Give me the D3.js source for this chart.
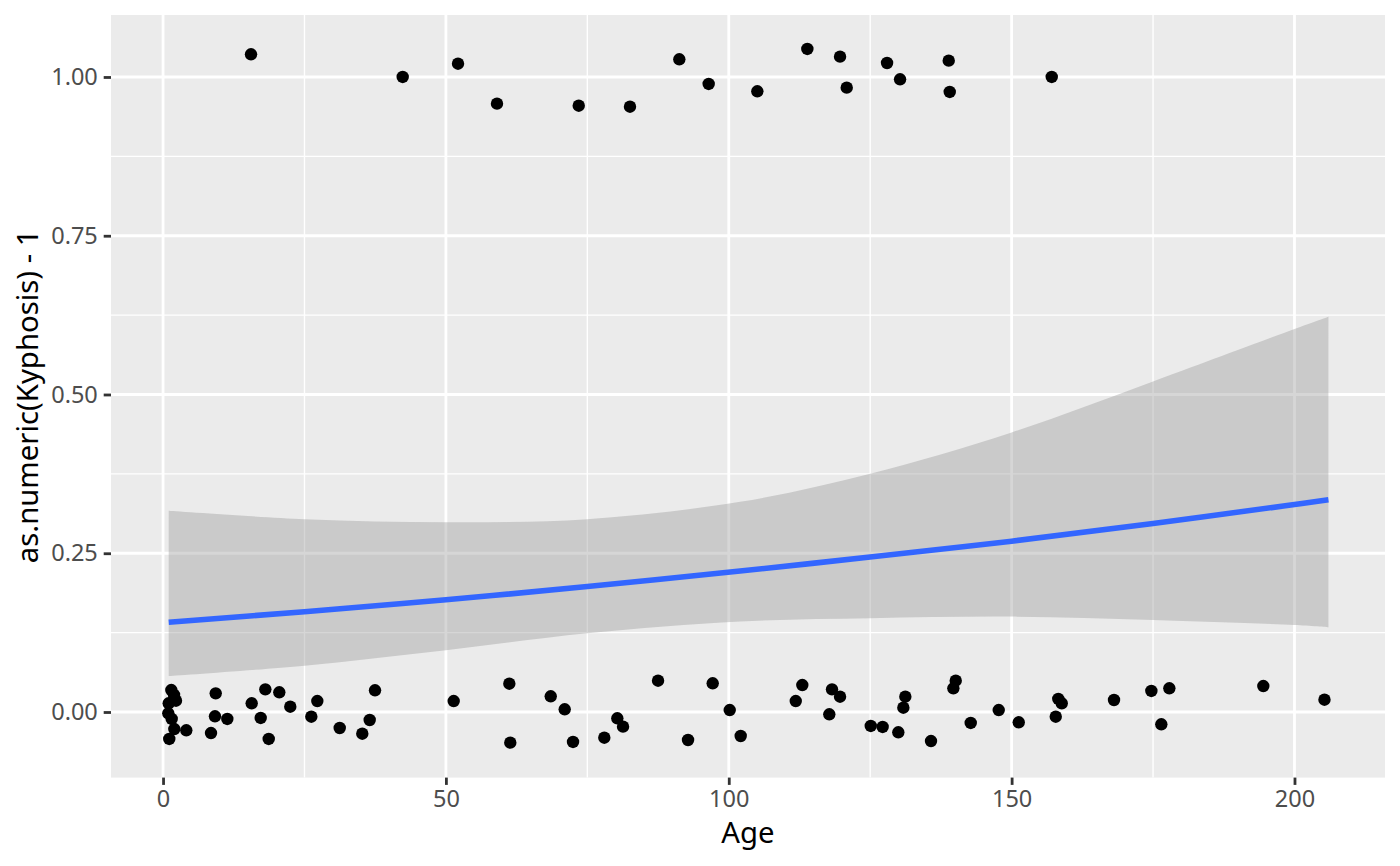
<!DOCTYPE html>
<html>
<head>
<meta charset="utf-8">
<script src="https://cdn.jsdelivr.net/npm/d3@7"></script>
<style>
  body { margin: 0; background: #fff; }
  svg { display: block; font-family: "Noto Sans", "Open Sans", sans-serif; }
</style>
</head>
<body>
<svg width="1400" height="866"></svg>
<script>
// jittered points: Age vs as.numeric(Kyphosis) - 1
const pointAge = [
  1.46, 1.94, 2.29, 1.0, 0.93, 1.53, 1.99, 1.10, 4.11, 9.31, 9.18, 11.36, 8.48,
  15.67, 18.08, 20.55, 17.26, 22.49, 18.68, 27.27, 26.21, 31.23, 35.22, 36.53,
  37.47, 51.38, 61.21, 61.38, 68.53, 71.0, 72.47, 78.0, 80.3, 81.31, 87.5, 92.8,
  97.16, 100.17, 102.11, 111.84, 113.0, 117.77, 118.25, 119.67, 125.1, 127.2,
  129.97, 130.86, 131.21, 135.75, 139.7, 140.12, 142.77, 147.72, 151.26, 157.8,
  158.25, 158.86, 168.1, 174.7, 177.88, 176.46, 194.49, 205.3,
  15.55, 42.36, 52.14, 59.03, 73.48, 82.54, 91.26, 96.45, 105.05, 113.89,
  119.67, 120.85, 127.98, 130.28, 138.88, 139.06, 157.09
];
const pointValue = [
  0.0346, 0.0268, 0.0178, 0.0137, -0.0020, -0.0110, -0.0268, -0.0425, -0.0288,
  0.0294, -0.0068, -0.0110, -0.0331, 0.0137, 0.0357, 0.0310, -0.0094, 0.0083,
  -0.0425, 0.0173, -0.0074, -0.0252, -0.0342, -0.0126, 0.0342, 0.0173, 0.0446,
  -0.0483, 0.0247, 0.0043, -0.0472, -0.0405, -0.0099, -0.0231, 0.0493, -0.0441,
  0.0452, 0.0031, -0.0378, 0.0173, 0.0425, -0.0036, 0.0357, 0.0241, -0.0220,
  -0.0236, -0.0320, 0.0068, 0.0241, -0.0457, 0.0373, 0.0493, -0.0173, 0.0031,
  -0.0162, -0.0074, 0.0205, 0.0137, 0.0189, 0.0331, 0.0373, -0.0194, 0.0409,
  0.0194,
  1.0357, 1.0, 1.0209, 0.958, 0.9548, 0.9532, 1.0279, 0.989, 0.9775, 1.0441,
  1.032, 0.9832, 1.022, 0.9964, 1.0257, 0.9764, 1.0
];

// smooth (glm binomial)
const fitAge   = [1, 25, 50, 75, 102, 125, 150, 175, 200, 206];
const fitValue = [0.1414, 0.1580, 0.1768, 0.1975, 0.2220, 0.2440, 0.2690, 0.2968, 0.3268, 0.3341];
const fitLower = [0.0567, 0.0730, 0.0972, 0.1240, 0.1426, 0.1477, 0.1502, 0.1450, 0.1370, 0.1335];
const fitUpper = [0.3168, 0.3037, 0.2990, 0.3037, 0.3310, 0.3751, 0.4402, 0.5204, 0.6031, 0.6225];

const xTicks = [0, 50, 100, 150, 200];
const xMinor = [25, 75, 125, 175];
const yTicks = [0, 0.25, 0.5, 0.75, 1];
const yMinor = [0.125, 0.375, 0.625, 0.875];

const svg = d3.select('svg');
const panel = {"left": 111, "right": 1385, "top": 15, "bottom": 777.6};

const xScale = d3.scaleLinear().domain([-9.2, 216.0]).range([panel.left, panel.right]);
const yScale = d3.scaleLinear().domain([-0.1033, 1.0976]).range([panel.bottom, panel.top]);

// panel background
svg.append('rect')
  .attr('x', panel.left).attr('y', panel.top)
  .attr('width', panel.right - panel.left)
  .attr('height', panel.bottom - panel.top)
  .attr('fill', '#EBEBEB');

// grid lines
const grid = svg.append('g');
grid.selectAll('.xminor').data(xMinor).enter().append('line')
  .attr('x1', d => xScale(d)).attr('x2', d => xScale(d))
  .attr('y1', panel.top).attr('y2', panel.bottom)
  .attr('stroke', '#fff').attr('stroke-width', 1.4);
grid.selectAll('.yminor').data(yMinor).enter().append('line')
  .attr('y1', d => yScale(d)).attr('y2', d => yScale(d))
  .attr('x1', panel.left).attr('x2', panel.right)
  .attr('stroke', '#fff').attr('stroke-width', 1.4);
grid.selectAll('.xmajor').data(xTicks).enter().append('line')
  .attr('x1', d => xScale(d)).attr('x2', d => xScale(d))
  .attr('y1', panel.top).attr('y2', panel.bottom)
  .attr('stroke', '#fff').attr('stroke-width', 2.8);
grid.selectAll('.ymajor').data(yTicks).enter().append('line')
  .attr('y1', d => yScale(d)).attr('y2', d => yScale(d))
  .attr('x1', panel.left).attr('x2', panel.right)
  .attr('stroke', '#fff').attr('stroke-width', 2.8);

// points
svg.append('g')
  .selectAll('circle')
  .data(pointAge.map((a, i) => [a, pointValue[i]]))
  .enter()
  .append('circle')
  .attr('cx', d => xScale(d[0]))
  .attr('cy', d => yScale(d[1]))
  .attr('r', 6.2)
  .attr('fill', '#000');

// ribbon + fitted line
const fit = fitAge.map((a, i) => ({age: a, y: fitValue[i], lo: fitLower[i], hi: fitUpper[i]}));

svg.append('path')
  .datum(fit)
  .attr('d', d3.area()
    .x(d => xScale(d.age))
    .y0(d => yScale(d.lo))
    .y1(d => yScale(d.hi))
    .curve(d3.curveCatmullRom))
  .attr('fill', '#999999')
  .attr('fill-opacity', 0.4);

svg.append('path')
  .datum(fit)
  .attr('d', d3.line()
    .x(d => xScale(d.age))
    .y(d => yScale(d.y))
    .curve(d3.curveCatmullRom))
  .attr('fill', 'none')
  .attr('stroke', '#3366FF')
  .attr('stroke-width', 5.6);

// x axis
const xAxis = svg.append('g')
  .attr('transform', 'translate(0,' + panel.bottom + ')')
  .call(d3.axisBottom(xScale).tickValues(xTicks).tickSize(7.3).tickPadding(5.5).tickFormat(d3.format('d')));
xAxis.select('.domain').remove();
xAxis.selectAll('line').attr('stroke', '#333333').attr('stroke-width', 2.8);
xAxis.selectAll('text').attr('fill', '#4D4D4D').style('font-size', '23.5px')
  .style('font-family', '"Noto Sans", "Open Sans", sans-serif');

// y axis
const yAxis = svg.append('g')
  .attr('transform', 'translate(' + panel.left + ',0)')
  .call(d3.axisLeft(yScale).tickValues(yTicks).tickSize(7.3).tickPadding(5.9).tickFormat(d3.format('.2f')));
yAxis.select('.domain').remove();
yAxis.selectAll('line').attr('stroke', '#333333').attr('stroke-width', 2.8);
yAxis.selectAll('text').attr('fill', '#4D4D4D').style('font-size', '23.5px')
  .style('font-family', '"Noto Sans", "Open Sans", sans-serif');

// axis titles
svg.append('text')
  .attr('x', (panel.left + panel.right) / 2)
  .attr('y', 843)
  .attr('text-anchor', 'middle')
  .style('font-size', '29.3px')
  .attr('fill', '#000')
  .text('Age');

svg.append('text')
  .attr('transform', 'translate(38,' + ((panel.top + panel.bottom) / 2) + ') rotate(-90)')
  .attr('text-anchor', 'middle')
  .style('font-size', '29.3px')
  .attr('fill', '#000')
  .text('as.numeric(Kyphosis) - 1');
</script>
</body>
</html>
